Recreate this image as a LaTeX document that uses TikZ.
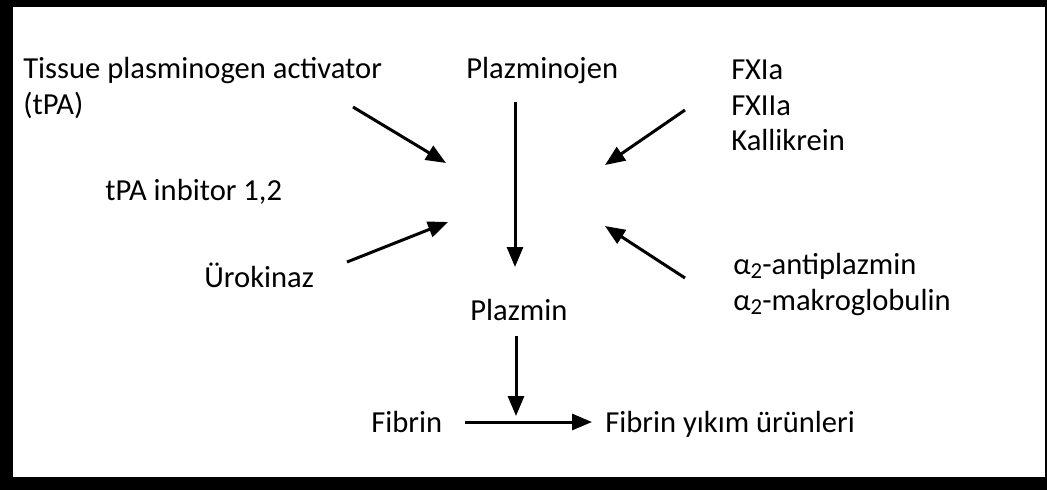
\documentclass[tikz,border=0pt]{standalone}
\usepackage{fontspec}
\setmainfont{Carlito}
\usetikzlibrary{arrows.meta}
\tikzset{
  txt/.style={inner sep=0mm, anchor=base west, font=\fontsize{17.4}{20}\selectfont
  },
  arr/.style={-{Triangle[length=4mm, width=3.2mm]}, line width=0.6mm
  }
}
\newcommand{\alphatwo}{α\raisebox{-0.3ex}{\fontsize{13}{14}\selectfont 2}}

\begin{document}
\begin{tikzpicture}[x=0.02cm, y=-0.02cm]
   \fill[black] (0, 0) rectangle (1047, 490);
   \fill[white] (13, 7) rectangle (1045, 477);

   \node[txt] (tpa) at (23, 78) {Tissue plasminogen activator};
   \node[txt] (tpab) at (23, 114) {(tPA)};
   \node[txt] (plg) at (466, 78) {Plazminojen};
   \node[txt] (fxi) at (731, 79) {FXIa};
   \node[txt] (fxii) at (731, 115) {FXIIa};
   \node[txt] (kal) at (731, 150) {Kallikrein};
   \node[txt] (inh) at (105, 200) {tPA inbitor 1,2};
   \node[txt] (uro) at (204, 287) {Ürokinaz};
   \node[txt] (pl) at (470, 320) {Plazmin};
   \node[txt] (ap) at (733, 274) {\alphatwo-antiplazmin};
   \node[txt] (mg) at (733, 310) {\alphatwo-makroglobulin};
   \node[txt] (fb) at (371, 432) {Fibrin};
   \node[txt] (fdp) at (605, 432) {Fibrin yıkım ürünleri};

   \coordinate (c1) at (353, 107);  \coordinate (c2) at (446, 163);
   \coordinate (c3) at (347, 262);  \coordinate (c4) at (448, 222);
   \coordinate (c5) at (685, 110);  \coordinate (c6) at (605, 165);
   \coordinate (c7) at (685, 278);  \coordinate (c8) at (605, 226);
   \coordinate (c9) at (515, 102);  \coordinate (c10) at (515, 267);
   \coordinate (c11) at (516, 336); \coordinate (c12) at (516, 416);
   \coordinate (c13) at (465, 422); \coordinate (c14) at (592, 422);

   \draw[arr] (c1) -- (c2);
   \draw[arr] (c3) -- (c4);
   \draw[arr] (c5) -- (c6);
   \draw[arr] (c7) -- (c8);
   \draw[arr] (c9) -- (c10);
   \draw[arr] (c11) -- (c12);
   \draw[arr] (c13) -- (c14);
\end{tikzpicture}
\end{document}
